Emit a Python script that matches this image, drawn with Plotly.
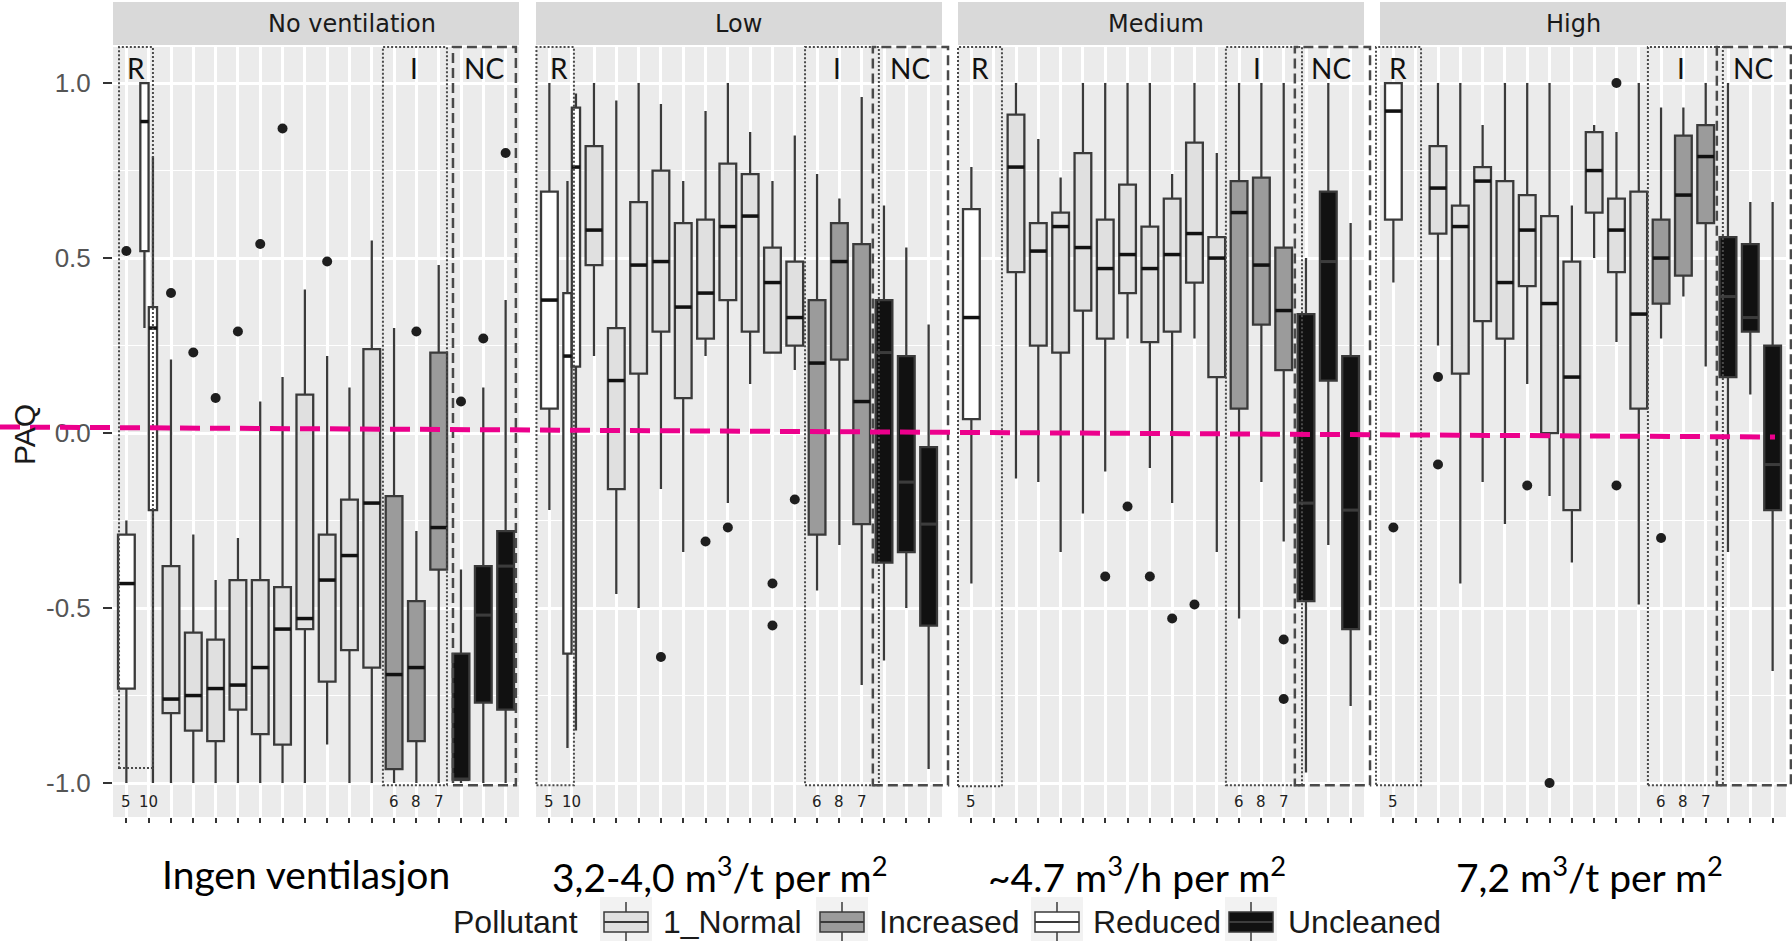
import plotly.graph_objects as go

# ---------------- data ----------------
facets = ["No ventilation", "Low", "Medium", "High"]
flow_labels = ["Ingen ventilasjon",
               "3,2-4,0 m<sup>3</sup>/t per m<sup>2</sup>",
               "~4.7 m<sup>3</sup>/h per m<sup>2</sup>",
               "7,2 m<sup>3</sup>/t per m<sup>2</sup>"]
pollutant_names = {"N": "1_Normal", "I": "Increased", "R": "Reduced", "U": "Uncleaned"}
legend_order = ["N", "I", "R", "U"]
n_categories = 18
y_ticks = [-1.0, -0.5, 0.0, 0.5, 1.0]

# No ventilation
nv_cat = [1, 2, 2, 3, 4, 5, 6, 7, 8, 9, 10, 11, 12, 13, 14, 15, 16, 17, 18]
nv_pol = ["R", "R", "R", "N", "N", "N", "N", "N", "N", "N", "N", "N", "N", "I", "I", "I", "U", "U", "U"]
nv_q1 = [-0.73, 0.52, -0.22, -0.80, -0.85, -0.88, -0.79, -0.86, -0.89, -0.56, -0.71, -0.62, -0.67, -0.96, -0.88, -0.39, -0.99, -0.77, -0.79]
nv_med = [-0.43, 0.89, 0.30, -0.76, -0.75, -0.73, -0.72, -0.67, -0.56, -0.53, -0.42, -0.35, -0.20, -0.69, -0.67, -0.27, -0.99, -0.52, -0.38]
nv_q3 = [-0.29, 1.00, 0.36, -0.38, -0.57, -0.59, -0.42, -0.42, -0.44, 0.11, -0.29, -0.19, 0.24, -0.18, -0.48, 0.23, -0.63, -0.38, -0.28]
nv_lo = [-1.00, 0.30, -1.00, -1.00, -1.00, -1.00, -1.00, -1.00, -1.00, -1.00, -0.89, -1.00, -1.00, -1.00, -1.00, -1.00, -1.00, -1.00, -1.00]
nv_hi = [-0.25, 1.00, 0.79, 0.21, -0.29, -0.42, -0.30, 0.09, 0.16, 0.41, 0.22, 0.13, 0.55, 0.30, -0.28, 0.48, -0.39, 0.13, 0.38]
nv_out_cat = [1, 3, 4, 5, 6, 7, 8, 10, 14, 16, 17, 18]
nv_out_val = [0.52, 0.40, 0.23, 0.10, 0.29, 0.54, 0.87, 0.49, 0.29, 0.09, 0.27, 0.80]
nv_labels = {1: "5", 2: "10", 13: "6", 14: "8", 15: "7"}

# Low
lo_cat = [1, 2, 2, 3, 4, 5, 6, 7, 8, 9, 10, 11, 12, 13, 14, 15, 16, 17, 18]
lo_pol = ["R", "R", "R", "N", "N", "N", "N", "N", "N", "N", "N", "N", "N", "I", "I", "I", "U", "U", "U"]
lo_q1 = [0.07, -0.63, 0.19, 0.48, -0.16, 0.17, 0.29, 0.10, 0.27, 0.38, 0.29, 0.23, 0.25, -0.29, 0.21, -0.26, -0.37, -0.34, -0.55]
lo_med = [0.38, 0.22, 0.76, 0.58, 0.15, 0.48, 0.49, 0.36, 0.40, 0.59, 0.62, 0.43, 0.33, 0.20, 0.49, 0.09, 0.23, -0.14, -0.26]
lo_q3 = [0.69, 0.40, 0.93, 0.82, 0.30, 0.66, 0.75, 0.60, 0.61, 0.77, 0.74, 0.53, 0.49, 0.38, 0.60, 0.54, 0.38, 0.22, -0.04]
lo_lo = [-0.22, -0.90, -0.85, 0.22, -0.46, -0.50, -0.16, -0.34, 0.22, -0.20, 0.14, 0.23, 0.18, -0.45, -0.32, -0.72, -0.65, -0.50, -0.96]
lo_hi = [1.00, 0.72, 0.97, 1.00, 0.95, 1.00, 0.94, 0.72, 0.92, 1.00, 0.86, 0.72, 0.85, 0.74, 0.67, 0.96, 0.65, 0.53, 0.31]
lo_out_cat = [6, 8, 9, 11, 11, 12]
lo_out_val = [-0.64, -0.31, -0.27, -0.43, -0.55, -0.19]
lo_labels = {1: "5", 2: "10", 13: "6", 14: "8", 15: "7"}

# Medium
me_cat = [1, 3, 4, 5, 6, 7, 8, 9, 10, 11, 12, 13, 14, 15, 16, 17, 18]
me_pol = ["R", "N", "N", "N", "N", "N", "N", "N", "N", "N", "N", "I", "I", "I", "U", "U", "U"]
me_q1 = [0.04, 0.46, 0.25, 0.23, 0.35, 0.27, 0.40, 0.26, 0.29, 0.43, 0.16, 0.07, 0.31, 0.18, -0.48, 0.15, -0.56]
me_med = [0.33, 0.76, 0.52, 0.59, 0.53, 0.47, 0.51, 0.47, 0.51, 0.57, 0.50, 0.63, 0.48, 0.35, -0.20, 0.49, -0.22]
me_q3 = [0.64, 0.91, 0.60, 0.63, 0.80, 0.61, 0.71, 0.59, 0.67, 0.83, 0.56, 0.72, 0.73, 0.53, 0.34, 0.69, 0.22]
me_lo = [-0.43, -0.13, -0.14, -0.34, -0.23, -0.11, 0.27, -0.10, -0.20, 0.27, -0.34, -0.53, -0.14, -0.31, -0.97, -0.32, -0.78]
me_hi = [0.76, 1.00, 0.84, 0.73, 1.00, 1.00, 1.00, 1.00, 0.74, 1.00, 0.80, 1.00, 1.00, 1.00, 0.50, 1.00, 0.60]
me_out_cat = [7, 8, 9, 10, 11, 15, 15]
me_out_val = [-0.41, -0.21, -0.41, -0.53, -0.49, -0.59, -0.76]
me_labels = {1: "5", 13: "6", 14: "8", 15: "7"}

# High
hi_cat = [1, 3, 4, 5, 6, 7, 8, 9, 10, 11, 12, 13, 14, 15, 16, 17, 18]
hi_pol = ["R", "N", "N", "N", "N", "N", "N", "N", "N", "N", "N", "I", "I", "I", "U", "U", "U"]
hi_q1 = [0.61, 0.57, 0.17, 0.32, 0.27, 0.42, 0.00, -0.22, 0.63, 0.46, 0.07, 0.37, 0.45, 0.60, 0.16, 0.29, -0.22]
hi_med = [0.92, 0.70, 0.59, 0.72, 0.43, 0.58, 0.37, 0.16, 0.75, 0.58, 0.34, 0.50, 0.68, 0.79, 0.39, 0.33, -0.09]
hi_q3 = [1.00, 0.82, 0.65, 0.76, 0.72, 0.68, 0.62, 0.49, 0.86, 0.67, 0.69, 0.61, 0.85, 0.88, 0.56, 0.54, 0.25]
hi_lo = [0.43, 0.25, -0.43, -0.14, -0.26, 0.14, -0.18, -0.37, 0.50, 0.26, -0.49, 0.27, 0.39, 0.19, -0.34, 0.11, -0.68]
hi_hi = [1.00, 1.00, 1.00, 0.88, 1.00, 1.00, 1.00, 0.65, 0.88, 0.86, 1.00, 0.93, 0.93, 1.00, 1.00, 0.66, 0.66]
hi_out_cat = [1, 3, 3, 7, 8, 11, 11, 13]
hi_out_val = [-0.27, 0.16, -0.09, -0.15, -1.00, 1.00, -0.15, -0.30]
hi_labels = {1: "5", 13: "6", 14: "8", 15: "7"}

# Overlay regions (category units within each facet)
region_R = [(0.67, 2.19), (0.42, 2.10), (0.40, 2.37), (0.22, 2.24)]
region_I = [(12.50, 15.37), (12.46, 15.77), (12.41, 15.82), (12.41, 15.77)]
region_NC = [(15.64, 18.46), (15.50, 18.87), (15.50, 18.87), (15.50, 18.82)]
region_R_bottom = [-0.957, -1.006, -1.009, -1.006]
region_bottom = -1.006

facet_data = [
    (nv_cat, nv_pol, nv_q1, nv_med, nv_q3, nv_lo, nv_hi, nv_out_cat, nv_out_val, nv_labels),
    (lo_cat, lo_pol, lo_q1, lo_med, lo_q3, lo_lo, lo_hi, lo_out_cat, lo_out_val, lo_labels),
    (me_cat, me_pol, me_q1, me_med, me_q3, me_lo, me_hi, me_out_cat, me_out_val, me_labels),
    (hi_cat, hi_pol, hi_q1, hi_med, hi_q3, hi_lo, hi_hi, hi_out_cat, hi_out_val, hi_labels),
]

# ---------------- styling / layout ----------------
W, H = 1792, 941
PANEL_L = [113, 536, 958, 1380]
PANEL_W = 406
PANEL_TOP, PANEL_BOT = 47, 817
XR = [0.4, 18.6]
YR = [-1.097, 1.103]
STRIP_TEXT_X = [352, 738, 1156, 1573]

FILL = {"N": "#E0E0E0", "I": "#9B9B9B", "R": "#FFFFFF", "U": "#111111"}
EDGE = "#3A3A3A"
PANEL_BG = "#EBEBEB"
STRIP_BG = "#D9D9D9"
PINK = "#EC008C"
FULL_W, DODGE_W, DODGE_OFF = 0.75, 0.37, 0.19


def xp(i, pos):
    return (PANEL_L[i] + (pos - XR[0]) / (XR[1] - XR[0]) * PANEL_W) / W


def ypx(py):
    return (H - py) / H


def yv(v):
    frac = (v - YR[0]) / (YR[1] - YR[0])
    return ypx(PANEL_BOT) + frac * (ypx(PANEL_TOP) - ypx(PANEL_BOT))


fig = go.Figure()
shapes, annotations = [], []
layout_axes = {}

for i, (cats, pols, q1, med, q3, lo, hi, ocat, oval, labels) in enumerate(facet_data):
    sfx = "" if i == 0 else str(i + 1)
    xr, yr = "x" + sfx, "y" + sfx
    counts = {}
    for c in cats:
        counts[c] = counts.get(c, 0) + 1
    seen = {}
    med_x, med_y, medu_x, medu_y = [], [], [], []
    for k, c in enumerate(cats):
        if counts[c] == 2:
            j = seen.get(c, 0)
            seen[c] = j + 1
            xpos = c + (-DODGE_OFF if j == 0 else DODGE_OFF)
            w = DODGE_W
        else:
            xpos, w = c, FULL_W
        fig.add_trace(go.Box(
            x=[xpos], q1=[q1[k]], median=[med[k]], q3=[q3[k]],
            lowerfence=[lo[k]], upperfence=[hi[k]], width=w,
            fillcolor=FILL[pols[k]], line=dict(color=EDGE, width=2.3),
            whiskerwidth=0, boxpoints=False, xaxis=xr, yaxis=yr,
            showlegend=False, hoverinfo="skip"))
        if pols[k] == "U":
            medu_x += [xpos - w / 2, xpos + w / 2, None]
            medu_y += [med[k], med[k], None]
        else:
            med_x += [xpos - w / 2, xpos + w / 2, None]
            med_y += [med[k], med[k], None]
    fig.add_trace(go.Scatter(x=med_x, y=med_y, mode="lines", line=dict(color="#111111", width=3.5),
                             xaxis=xr, yaxis=yr, showlegend=False, hoverinfo="skip"))
    fig.add_trace(go.Scatter(x=medu_x, y=medu_y, mode="lines", line=dict(color="#3C3C3C", width=3),
                             xaxis=xr, yaxis=yr, showlegend=False, hoverinfo="skip"))
    fig.add_trace(go.Scatter(x=ocat, y=oval, mode="markers",
                             marker=dict(color="#1E1E1E", size=10, line=dict(width=0)),
                             xaxis=xr, yaxis=yr, showlegend=False, hoverinfo="skip", cliponaxis=False))

    dom = [PANEL_L[i] / W, (PANEL_L[i] + PANEL_W) / W]
    layout_axes["xaxis" + sfx] = dict(
        domain=dom, range=XR, anchor=yr, tickmode="array",
        tickvals=list(range(1, n_categories + 1)), showticklabels=False,
        ticks="outside", ticklen=5, tickwidth=1.5, tickcolor="#333333",
        showgrid=True, gridcolor="white", gridwidth=2.5, zeroline=False, showline=False)
    layout_axes["yaxis" + sfx] = dict(
        domain=[ypx(PANEL_BOT), ypx(PANEL_TOP)], range=YR, anchor=xr,
        tickmode="array", tickvals=y_ticks, ticktext=["%.1f" % v for v in y_ticks],
        showticklabels=(i == 0), ticks="outside" if i == 0 else "",
        ticklen=9, tickwidth=2, tickcolor="#333333", ticklabelstandoff=7,
        tickfont=dict(family="Liberation Sans, Arial", size=26, color="#555555"),
        showgrid=True, gridcolor="white", gridwidth=2.5, zeroline=False, showline=False,
        minor=dict(dtick=0.25, tick0=0, showgrid=True, gridcolor="white", gridwidth=1.2, ticks=""))

    # strip
    shapes.append(dict(type="rect", xref="paper", yref="paper", x0=dom[0], x1=dom[1],
                       y0=ypx(45), y1=ypx(2), fillcolor=STRIP_BG, line=dict(width=0), layer="below"))
    annotations.append(dict(text=facets[i], xref="paper", yref="paper", x=STRIP_TEXT_X[i] / W,
                            y=ypx(24), showarrow=False, xanchor="center", yanchor="middle",
                            font=dict(family="DejaVu Sans", size=24, color="#1A1A1A")))
    # category number labels
    for c, t in labels.items():
        annotations.append(dict(text=t, xref=xr, yref=yr, x=c, y=-1.054, showarrow=False,
                                xanchor="center", yanchor="middle",
                                font=dict(family="DejaVu Sans", size=15, color="#222222")))
    # overlay regions
    for (a, b), bot, dash, lab in [(region_R[i], region_R_bottom[i], "2px,2px", "R"),
                                    (region_I[i], region_bottom, "2px,2px", "I"),
                                    (region_NC[i], region_bottom, "10px,5px", "NC")]:
        shapes.append(dict(type="rect", xref="paper", yref="paper", x0=xp(i, a), x1=xp(i, b),
                           y0=yv(bot), y1=ypx(PANEL_TOP), fillcolor="rgba(0,0,0,0)",
                           line=dict(color="#4A4A4A", width=2 if lab != "NC" else 2.5, dash=dash),
                           layer="above"))

# region letters
region_label_pos = {"R": [1.45, 1.45, 1.4, 1.2], "I": [13.9, 13.9, 13.8, 13.9], "NC": [17.05, 17.15, 17.1, 17.1]}
for lab, poss in region_label_pos.items():
    for i, pos in enumerate(poss):
        annotations.append(dict(text=lab, xref="paper", yref="paper", x=xp(i, pos), y=ypx(68),
                                showarrow=False, xanchor="center", yanchor="middle",
                                font=dict(family="Lato", size=28, color="#111111")))

# flow labels
flow_x_px = [306, 720, 1137, 1589]
for t, px in zip(flow_labels, flow_x_px):
    annotations.append(dict(text=t, xref="paper", yref="paper", x=px / W, y=ypx(874),
                            showarrow=False, xanchor="center", yanchor="middle",
                            font=dict(family="Lato", size=39, color="#000000")))

# pink reference line (hand-drawn overlay, slightly tilted)
shapes.append(dict(type="line", xref="paper", yref="paper", x0=0, x1=1775 / W,
                   y0=ypx(427), y1=ypx(437), line=dict(color=PINK, width=5, dash="20px,10px"),
                   layer="above"))

# y title
annotations.append(dict(text="PAQ", xref="paper", yref="paper", x=24 / W, y=ypx(435),
                        showarrow=False, textangle=-90, xanchor="center", yanchor="middle",
                        font=dict(family="Liberation Sans, Arial", size=30, color="#1A1A1A")))

# legend (ggplot style, drawn manually)
annotations.append(dict(text="Pollutant", xref="paper", yref="paper", x=451 / W, y=ypx(922),
                        showarrow=False, xanchor="left", yanchor="middle",
                        font=dict(family="Liberation Sans, Arial", size=32, color="#1A1A1A")))
key_cx = [626, 842, 1057, 1251]
text_x = [661, 877, 1091, 1286]
for code, cx, tx in zip(legend_order, key_cx, text_x):
    shapes.append(dict(type="rect", xref="paper", yref="paper", x0=(cx - 26) / W, x1=(cx + 26) / W,
                       y0=ypx(941), y1=ypx(897), fillcolor="#F2F2F2", line=dict(width=0)))
    shapes.append(dict(type="line", xref="paper", yref="paper", x0=cx / W, x1=cx / W,
                       y0=ypx(902), y1=ypx(941), line=dict(color=EDGE, width=1.5)))
    shapes.append(dict(type="rect", xref="paper", yref="paper", x0=(cx - 22) / W, x1=(cx + 22) / W,
                       y0=ypx(932), y1=ypx(912), fillcolor=FILL[code], line=dict(color=EDGE, width=1.5)))
    shapes.append(dict(type="line", xref="paper", yref="paper", x0=(cx - 22) / W, x1=(cx + 22) / W,
                       y0=ypx(922), y1=ypx(922), line=dict(color=EDGE if code != "U" else "#3C3C3C", width=2)))
    annotations.append(dict(text=pollutant_names[code], xref="paper", yref="paper", x=tx / W, y=ypx(922),
                            showarrow=False, xanchor="left", yanchor="middle",
                            font=dict(family="Liberation Sans, Arial", size=32, color="#1A1A1A")))

fig.update_layout(
    width=W, height=H, margin=dict(l=0, r=0, t=0, b=0),
    paper_bgcolor="white", plot_bgcolor=PANEL_BG, boxmode="overlay",
    showlegend=False, shapes=shapes, annotations=annotations, **layout_axes)

fig.write_html("out.html", config={"displayModeBar": False},
               post_script="document.body.style.margin='0px';document.body.style.overflow='hidden';")
